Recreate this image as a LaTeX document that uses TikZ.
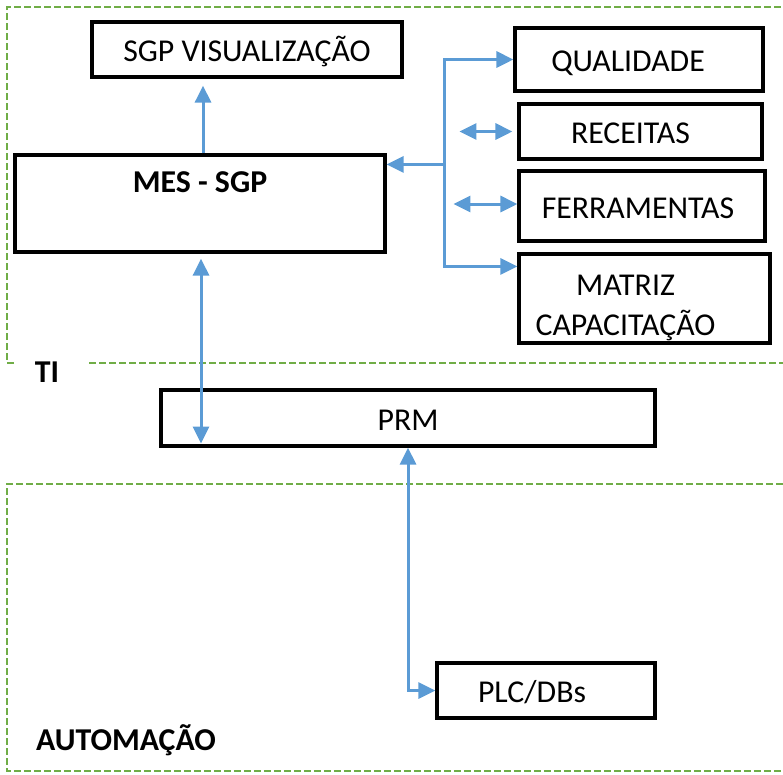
\documentclass[tikz,border=0pt]{standalone}
\usepackage{fontspec}
\setmainfont{Carlito}
\usepackage{xcolor}
\usepackage{tikz}
\usetikzlibrary{positioning,calc,arrows.meta}
\definecolor{LinkBlue}{RGB}{91,155,213}
\definecolor{ZoneGreen}{RGB}{112,173,71}
\tikzset{
    box/.style={draw=black, line width=3.2pt, inner sep=0pt, align=center, text height=30pt, text depth=6pt},
    link/.style={draw=LinkBlue, line width=3pt},
    tohead/.style={-{Triangle[length=17pt,width=16pt]}},
    bothhead/.style={{Triangle[length=17pt,width=16pt]}-{Triangle[length=17pt,width=16pt]}},
    zone/.style={draw=ZoneGreen, line width=2.6pt, dash pattern=on 7pt off 3pt},
    zonelabel/.style={font=\bfseries, inner sep=0pt}
}
\begin{document}
\fontsize{31.8}{40}\selectfont
\begin{tikzpicture}[x=1pt, y=-1pt]
    \useasboundingbox (0,0) rectangle (783,774);
    % zonas
    \draw[zone] (14,363) -- (7,363) -- (7,7) -- (783,7);
    \draw[zone] (89,363) -- (783,363);
    \draw[zone] (783,484) -- (7,484) -- (7,771) -- (783,771);
    \node[zonelabel] (ti) at (47,372) {TI};
    \node[zonelabel] (auto) at (126,740) {AUTOMAÇÃO};

    % TI
    \node[box, minimum width=310pt, minimum height=55pt] (vis) at (247,49.5) {SGP VISUALIZAÇÃO};
    \node[box, minimum width=370pt, minimum height=97pt] (mes) at (200,203.5) {};
    \node[font=\bfseries, inner sep=0pt, below=18pt of mes.north] (mestxt) {MES - SGP};
    \node[box, minimum width=248pt, minimum height=63pt] (qual) at (639,59.5) {QUALIDADE\hspace*{22pt}};
    \node[box, minimum width=243pt, minimum height=55pt] (rec) at (640.5,131.5) {RECEITAS\hspace*{20pt}};
    \node[box, minimum width=246pt, minimum height=70pt] (ferr) at (642,206) {FERRAMENTAS\hspace*{8pt}};
    \node[box, minimum width=251pt, minimum height=89pt] (mat) at (644.5,298.5) {};
    \node[align=center, inner sep=0pt] (mattxt) at ([xshift=-19pt,yshift=-9pt]mat.center) {MATRIZ\\CAPACITAÇÃO};

    % automacao
    \node[box, minimum width=494pt, minimum height=56pt] (prm) at (408,418) {PRM};
    \node[box, minimum width=218pt, minimum height=55pt] (plc) at (546,690.5) {PLC/DBs\hspace*{28pt}};

    \coordinate (trunk) at (444,0);
    \coordinate (matin) at ([yshift=-14pt]mat.north west);
    \coordinate (mesin) at ([yshift=-11pt]mes.north east);
    \coordinate (visin) at ($(mes.north |- vis.south)+(3,7)$);

    \draw[link,tohead] ($(mes.north)+(3,0)$) -- (visin);
    \draw[link,bothhead] (qual.west) -- (qual.west -| trunk) -- (trunk |- matin) -- (matin);
    \draw[link,tohead] (trunk |- mesin) -- (mesin);
    \draw[link,bothhead] ([xshift=-58pt]rec.west) -- ([xshift=-5pt]rec.west);
    \draw[link,bothhead] ([xshift=-64pt,yshift=2pt]ferr.west) -- ([yshift=2pt]ferr.west);
    \draw[link,bothhead] ($(mes.south)+(1,5)$) -- ($(mes.south |- prm.south)+(1,-4)$);
    \draw[link,bothhead] (prm.south) |- (plc.west);
\end{tikzpicture}
\end{document}
